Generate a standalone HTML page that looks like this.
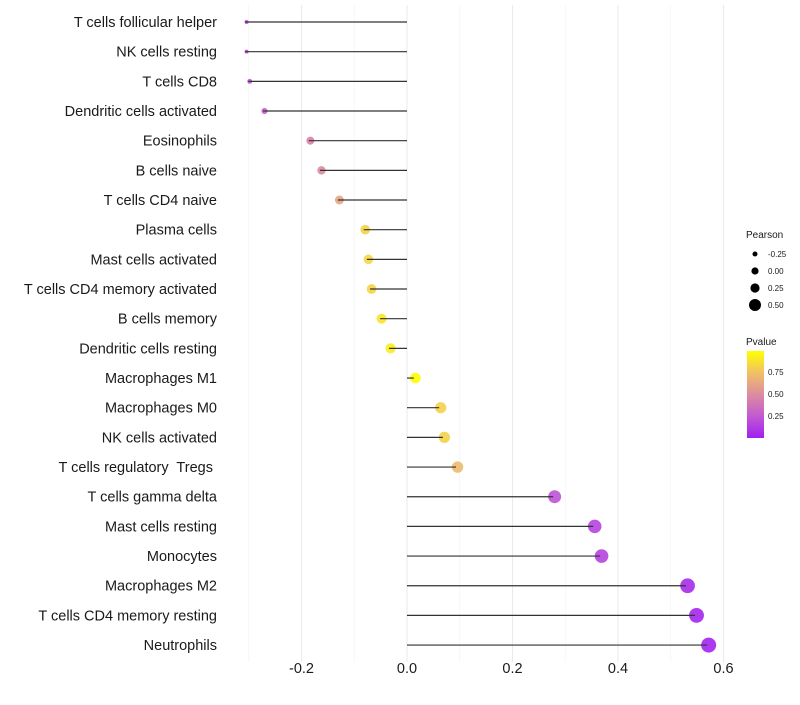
<!DOCTYPE html>
<html><head><meta charset="utf-8"><style>
body{margin:0;background:#fff;}
svg text{font-family:"Liberation Sans",Arial,sans-serif;white-space:pre;}
</style></head><body>
<svg id="chart" width="800" height="700" xmlns="http://www.w3.org/2000/svg">
<defs><linearGradient id="pgrad" x1="0" y1="1" x2="0" y2="0">
<stop offset="0" stop-color="#a020f0"/><stop offset="0.25" stop-color="#c359d2"/>
<stop offset="0.5" stop-color="#dc8c9f"/><stop offset="0.75" stop-color="#f0c065"/>
<stop offset="1" stop-color="#ffff00"/></linearGradient></defs>
<g id="grid"></g><g id="marks"></g><g id="labels"></g><g id="legend"></g>
</svg>
<script>
const categories=["T cells follicular helper","NK cells resting","T cells CD8","Dendritic cells activated","Eosinophils","B cells naive","T cells CD4 naive","Plasma cells","Mast cells activated","T cells CD4 memory activated","B cells memory","Dendritic cells resting","Macrophages M1","Macrophages M0","NK cells activated","T cells regulatory  Tregs ","T cells gamma delta","Mast cells resting","Monocytes","Macrophages M2","T cells CD4 memory resting","Neutrophils"];
const pearson=[-0.307,-0.307,-0.301,-0.273,-0.186,-0.165,-0.131,-0.082,-0.076,-0.070,-0.051,-0.034,0.013,0.061,0.068,0.093,0.277,0.353,0.366,0.529,0.546,0.569];
const pvalue=[0.22,0.22,0.24,0.28,0.45,0.5,0.62,0.82,0.84,0.83,0.9,0.93,0.99,0.82,0.82,0.72,0.22,0.16,0.15,0.05,0.03,0.02];
const xTicks=[-0.2,0,0.2,0.4,0.6];
const xMinor=[-0.3,-0.1,0.1,0.3,0.5];
const NS="http://www.w3.org/2000/svg";
const X=v=>407+v*527.5;
const Y=i=>22+i*29.67;
const R=v=>2+5.5*Math.sqrt(Math.max(0,v+0.307)/0.876);
const stops=[[0,[160,32,240]],[0.25,[195,89,210]],[0.5,[220,140,159]],[0.75,[240,192,101]],[1,[255,255,0]]];
function col(p){for(let k=1;k<stops.length;k++){if(p<=stops[k][0]){const a=stops[k-1],b=stops[k];const t=(p-a[0])/(b[0]-a[0]);const c=a[1].map((x,j)=>Math.round(x+(b[1][j]-x)*t));return `rgb(${c})`;}}return "rgb(255,255,0)";}
function mk(tag,attrs,parent){const e=document.createElementNS(NS,tag);for(const k in attrs)e.setAttribute(k,attrs[k]);document.getElementById(parent).appendChild(e);return e;}
xMinor.forEach(v=>{const l=mk('line',{x1:X(v),x2:X(v),y1:5,y2:662,stroke:'#f3f3f3','stroke-width':0.6},'grid');

});
xTicks.forEach(v=>{const l=mk('line',{x1:X(v),x2:X(v),y1:5,y2:662,stroke:'#ebebeb','stroke-width':1.1},'grid');


const t=mk('text',{x:X(v),y:673,'text-anchor':'middle','font-size':14.5,fill:'#1a1a1a'},'labels');t.textContent=(v===0?'0.0':v.toFixed(1));

});
categories.forEach((c,i)=>{const v=pearson[i];
const ci=mk('circle',{cx:X(v)+1.5,cy:Y(i),r:R(v),fill:col(pvalue[i]),'fill-opacity':0.9},'marks');


const s=mk('line',{x1:X(0),x2:X(v),y1:Y(i),y2:Y(i),stroke:'#333','stroke-width':1.2},'marks');


const t=mk('text',{x:217,y:Y(i)+5,'text-anchor':'end','font-size':14.5,fill:'#1a1a1a'},'labels');t.textContent=c;

});
const lt=mk('text',{x:746,y:238,'font-size':10,fill:'#1a1a1a'},'legend');lt.textContent='Pearson';


const legR=[2.5,3.6,4.6,6];
[-0.25,0,0.25,0.5].forEach((v,k)=>{const y=254+k*17;
const c=mk('circle',{cx:755,cy:y,r:legR[k],fill:'#000'},'legend');


const t=mk('text',{x:768,y:y+3,'font-size':8,fill:'#1a1a1a'},'legend');t.textContent=v.toFixed(2);

});
const pt=mk('text',{x:746,y:345,'font-size':10,fill:'#1a1a1a'},'legend');pt.textContent='Pvalue';


const bar=mk('rect',{x:747,y:351,width:17,height:87,fill:'url(#pgrad)'},'legend');


[0.75,0.5,0.25].forEach((v,k)=>{const y=372+k*22;
const t=mk('text',{x:768,y:y+3,'font-size':8,fill:'#1a1a1a'},'legend');t.textContent=v.toFixed(2);

});
</script>
</body></html>
